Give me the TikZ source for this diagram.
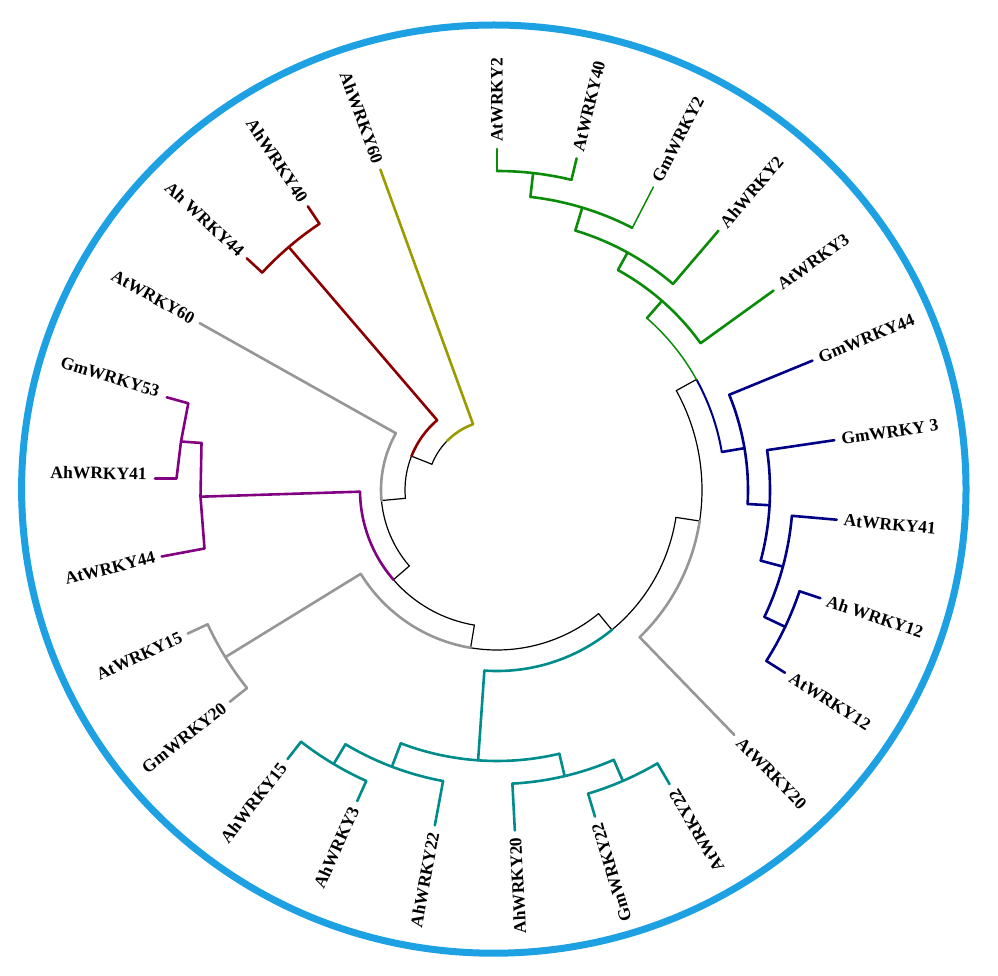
\documentclass[tikz,border=0pt]{standalone}
\usepackage{fontspec}
\setmainfont{Liberation Serif}
\definecolor{ring}{RGB}{29,161,226}
\definecolor{cgreen}{RGB}{10,140,10}
\definecolor{cblue}{RGB}{0,0,135}
\definecolor{cgray}{RGB}{150,150,150}
\definecolor{cteal}{RGB}{0,140,140}
\definecolor{cpurple}{RGB}{130,0,130}
\definecolor{cred}{RGB}{140,0,0}
\definecolor{cyel}{RGB}{155,155,0}
% arc at radius #4 from angle #2 to #3 (image angles, clockwise from east)
\newcommand\brarc[4]{\draw[#1] (#2:#4) arc[start angle=#2, end angle=#3, radius=#4];}
\newcommand\brrad[4]{\draw[#1] (#2:#3) -- (#2:#4);}
% leaf on the right half: style, angle, inner radius, name, text
\newcommand\leafR[5]{%
  \coordinate (t#4) at (#2:341);
  \draw[#1] (#2:#3) -- (t#4);
  \node[lab, anchor=west, rotate={-1*(#2)}] (n#4) at (#2:348) {#5};}
\newcommand\leafL[5]{%
  \coordinate (t#4) at (#2:341);
  \draw[#1] (#2:#3) -- (t#4);
  \node[lab, anchor=east, rotate={180-(#2)}] (n#4) at (#2:348) {#5};}
\begin{document}
\begin{tikzpicture}[x=1pt,y=-1pt,
  blk/.style={line width=1.2pt, black, line cap=round, line join=round},
  cl/.style={line width=2.6pt, line cap=round, line join=round},
  thin/.style={line width=1.5pt, line cap=round, line join=round},
  lab/.style={font=\bfseries\fontsize{17.5}{20}\selectfont, inner sep=0pt, text=black}]
\useasboundingbox (0,0) rectangle (998,976);
\draw[line width=7pt, ring] (493.8,489.1) ellipse [x radius=472.2, y radius=464.1];

\begin{scope}[shift={(497,490)}]
\coordinate (root) at (0,0);
% ---- black backbone
\brarc{blk}{-135.2}{-158.4}{70}
\brrad{blk}{-158.4}{70}{92}
\brarc{blk}{-158.4}{-185.2}{92}
\brrad{blk}{174.8}{92}{116}
\brarc{blk}{174.8}{139.1}{116}
\brrad{blk}{139.1}{116}{137}
\brarc{blk}{139.1}{99.5}{137}
\brrad{blk}{99.5}{137}{160}
\brarc{blk}{99.5}{50.6}{160}
\brrad{blk}{50.6}{160}{181}
\brarc{blk}{50.6}{8.7}{181}
\brrad{blk}{8.7}{181}{205}
\brarc{blk}{8.7}{-29}{205}
\brrad{blk}{-29}{205}{228}

% ---- yellow
\brarc{cl,cyel}{-135.2}{-110}{70}
\leafL{cl,cyel}{-110}{70}{AhWRKY60}{AhWRKY60}

% ---- red
\brarc{cl,cred}{-158.4}{-130.6}{92}
\brrad{cl,cred}{-130.6}{92}{320}
\brarc{cl,cred}{-137.2}{-123.7}{320}
\leafL{cl,cred}{-137.2}{320}{AhWRKY44}{Ah WRKY44}
\leafL{cl,cred}{-123.7}{320}{AhWRKY40}{AhWRKY40}

% ---- gray AtWRKY60
\brarc{cl,cgray}{174.8}{209.3}{116}
\leafL{cl,cgray}{209.3}{116}{AtWRKY60}{AtWRKY60}

% ---- purple arc
\brarc{cl,cpurple}{139.1}{179.3}{137}
\coordinate (p0) at (179.3:137);

% ---- gray AtWRKY15 / GmWRKY20
\brarc{cl,cgray}{99.5}{148.4}{160}
\brrad{cl,cgray}{148.4}{160}{319}
\brarc{cl,cgray}{141.6}{155.1}{319}
\leafL{cl,cgray}{155.1}{319}{AtWRKY15}{AtWRKY15}
\leafL{cl,cgray}{141.6}{319}{GmWRKY20}{GmWRKY20}

% ---- teal
\brarc{cl,cteal}{50.6}{94}{181}
\brrad{cl,cteal}{94}{181}{271}
\brarc{cl,cteal}{76.7}{110.8}{271}
\brrad{cl,cteal}{76.7}{271}{294}
\brarc{cl,cteal}{66.6}{87}{294}
\leafL{cl,cteal}{87}{294}{AhWRKY20}{AhWRKY20}
\brrad{cl,cteal}{66.6}{294}{317}
\brarc{cl,cteal}{59.6}{73.3}{317}
\leafL{cl,cteal}{73.3}{317}{GmWRKY22}{GmWRKY22}
\leafL{cl,cteal}{59.6}{317}{AtWRKY22}{AtWRKY22}
\brrad{cl,cteal}{110.8}{271}{296}
\brarc{cl,cteal}{100.5}{120.8}{296}
\leafL{cl,cteal}{100.5}{296}{AhWRKY22}{AhWRKY22}
\brrad{cl,cteal}{120.8}{296}{319}
\brarc{cl,cteal}{114.2}{127.9}{319}
\leafL{cl,cteal}{114.2}{319}{AhWRKY3}{AhWRKY3}
\leafL{cl,cteal}{127.9}{319}{AhWRKY15}{AhWRKY15}

% ---- gray AtWRKY20
\brarc{cl,cgray}{8.7}{45.9}{205}
\leafR{cl,cgray}{45.9}{205}{AtWRKY20}{AtWRKY20}

% ---- blue
\brarc{line width=2pt,cblue}{-29}{-9.6}{228}
\brrad{cl,cblue}{-9.6}{228}{251}
\brarc{cl,cblue}{-22.3}{3.2}{251}
\leafR{cl,cblue}{-22.3}{251}{GmWRKY44}{GmWRKY44}
\brrad{cl,cblue}{3.2}{251}{273}
\brarc{cl,cblue}{-8.4}{15}{273}
\leafR{cl,cblue}{-8.4}{273}{GmWRKY3}{GmWRKY 3}
\brrad{cl,cblue}{15}{273}{296}
\brarc{cl,cblue}{5}{25.4}{296}
\leafR{cl,cblue}{5}{296}{AtWRKY41}{AtWRKY41}
\brrad{cl,cblue}{25.4}{296}{319}
\brarc{cl,cblue}{18.5}{32.4}{319}
\leafR{cl,cblue}{18.5}{319}{AhWRKY12}{Ah WRKY12}
\leafR{cl,cblue}{32.4}{319}{AtWRKY12}{AtWRKY12}

% ---- green
\brarc{thin,cgreen}{-29}{-48.9}{228}
\brrad{cl,cgreen}{-48.9}{228}{251}
\brarc{cl,cgreen}{-61.2}{-35.8}{251}
\leafR{cl,cgreen}{-35.8}{251}{AtWRKY3}{AtWRKY3}
\brrad{cl,cgreen}{-61.2}{251}{271}
\brarc{cl,cgreen}{-73.2}{-49.5}{271}
\leafR{cl,cgreen}{-49.5}{271}{AhWRKY2}{AhWRKY2}
\brrad{cl,cgreen}{-73.2}{271}{295}
\brarc{cl,cgreen}{-83.5}{-62.7}{295}
\leafR{thin,cgreen}{-62.7}{295}{GmWRKY2}{GmWRKY2}
\brrad{cl,cgreen}{-83.5}{295}{319}
\brarc{cl,cgreen}{-90}{-76.5}{319}
\leafR{cl,cgreen}{-90}{319}{AtWRKY2}{AtWRKY2}
\leafR{cl,cgreen}{-76.5}{319}{AtWRKY40}{AtWRKY40}
\end{scope}

% ---- purple subtree (rectilinear)
\coordinate (p1) at (200.5,496.7);
\coordinate (p2) at (201.5,443);
\coordinate (p3) at (204.5,548.5);
\coordinate (p4) at (181,441.5);
\coordinate (p5) at (188.3,403.3);
\coordinate (p6) at (176.5,478.5);
\coordinate (tGm53) at (166.7,397.3);
\coordinate (tAh41) at (155,478.5);
\coordinate (tAt44) at (161.7,556.5);
\draw[cl,cpurple] (p0) -- (p1);
\draw[cl,cpurple] (p2) -- (p1) -- (p3) -- (tAt44);
\draw[cl,cpurple] (p4) -- (p2);
\draw[cl,cpurple] (tGm53) -- (p5) -- (p4) -- (p6) -- (tAh41);
\node[lab, anchor=east, rotate=-17] (nGm53) at (159,392) {GmWRKY53};
\node[lab, anchor=east, rotate=-1] (nAh41) at (147,474) {AhWRKY41};
\node[lab, anchor=east, rotate=14] (nAt44) at (155,557) {AtWRKY44};
\end{tikzpicture}
\end{document}
